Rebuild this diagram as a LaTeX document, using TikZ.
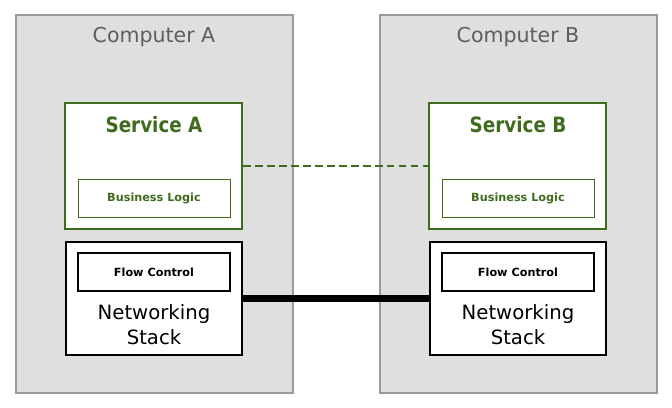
\documentclass[tikz,border=0pt]{standalone}
\usepackage{fontspec}
\setmainfont{DejaVu Sans}
\newfontfamily\condfont{DejaVu Sans}[FakeStretch=0.87]
\usetikzlibrary{positioning}

\definecolor{boxgray}{HTML}{DFDFDF}
\definecolor{framegray}{HTML}{9A9A9A}
\definecolor{titlegray}{HTML}{5E5E5E}
\definecolor{svcgreen}{HTML}{3E6B1E}

\tikzset{
    computer/.style={draw=framegray, fill=boxgray, line width=0.8pt, minimum width=6.925cm, minimum height=9.45cm, inner sep=0},
    service/.style={draw=svcgreen, fill=white, line width=1.8pt, minimum width=4.425cm, minimum height=3.15cm, inner sep=0},
    logicbox/.style={draw=svcgreen, fill=white, line width=0.6pt, minimum width=3.8cm, minimum height=0.95cm, inner sep=0,
        text=svcgreen, font=\fontsize{8}{9}\selectfont\bfseries},
    netbox/.style={draw=black, fill=white, line width=1pt, minimum width=4.4cm, minimum height=2.825cm, inner sep=0},
    flowbox/.style={draw=black, fill=white, line width=0.8pt, minimum width=3.8cm, minimum height=0.95cm, inner sep=0,
        font=\fontsize{8}{9}\selectfont\bfseries},
}

\begin{document}
\begin{tikzpicture}
        \useasboundingbox (0, 0) rectangle (16.8, 10.2);
        \fill[white] (0, 0) rectangle (16.8, 10.2);

        \foreach \n/\x in {A/0, B/9.1} {
            \node[computer] (comp\n) at ({\x+3.8625}, 5.1) {};
            \node[text=titlegray, font=\fontsize{14.6}{17}\selectfont] (title\n) at ({\x+3.85}, 9.275) {Computer \n};

            \node[service] (svc\n) at ({\x+3.84}, 6.05) {};
            \node[text=svcgreen, font=\condfont\fontsize{15}{17}\selectfont\bfseries] (svctitle\n) at ({\x+3.85}, 7.075) {Service \n};
            \node[logicbox] (logic\n) at ({\x+3.85}, 5.25) {Business Logic};

            \node[netbox] (net\n) at ({\x+3.85}, 2.7375) {};
            \node[flowbox] (flow\n) at ({\x+3.85}, 3.4) {Flow Control};
            \node[align=center, font=\fontsize{14}{17.5}\selectfont] (stack\n) at ({\x+3.85}, 2.08) {Networking\\Stack};
        }

        \draw[svcgreen, line width=1.5pt, dash pattern=on 5.5pt off 3pt] (svcA.east) -- (svcB.west);
        \draw[black, line width=5pt] (netA.east) -- (netB.west);
    \end{tikzpicture}
\end{document}
